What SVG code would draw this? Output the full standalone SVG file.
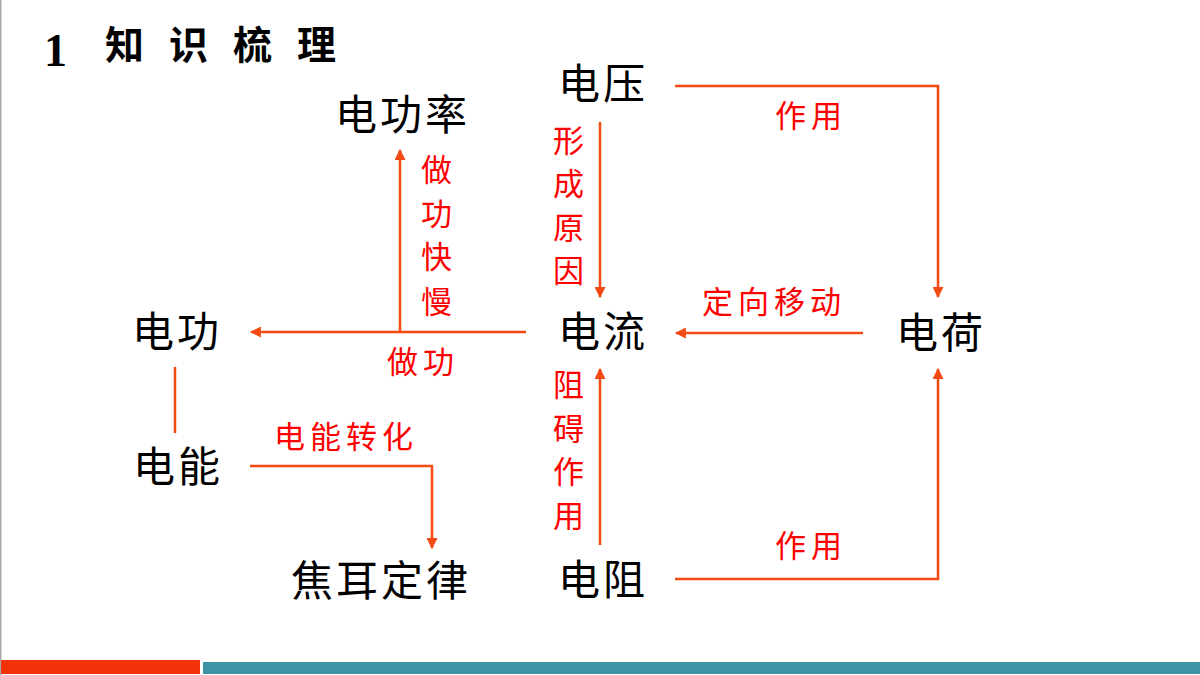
<svg xmlns="http://www.w3.org/2000/svg" width="1200" height="675" viewBox="0 0 1200 675">
<style>
.node{font-family:"Noto Sans CJK SC",sans-serif;font-size:42px;fill:#000;letter-spacing:3px}
.lbl{font-family:"Noto Sans CJK SC",sans-serif;font-size:31px;fill:#FF0000;letter-spacing:5px}
.vl{font-family:"Noto Sans CJK SC",sans-serif;font-size:31px;fill:#FF0000}
.ln{fill:none;stroke:#F24A12;stroke-width:2.5}
</style>
<defs>
<marker id="ah" viewBox="0 0 10 10" refX="9" refY="5" markerWidth="4.4" markerHeight="4.4" orient="auto" markerUnits="strokeWidth">
<path d="M0,0 L10,5 L0,10 z" fill="#F24A12"/>
</marker>
</defs>
<rect x="0" y="0" width="1200" height="675" fill="#fff"/>
<rect x="0" y="0" width="1.5" height="675" fill="#A8A8A8"/>
<rect x="1" y="660" width="199" height="14" fill="#F23208"/>
<rect x="203" y="662" width="997" height="12" fill="#3E93A5"/>
<g id="title">
<text x="44" y="66" font-family="Liberation Serif,serif" font-weight="bold" font-size="46" fill="#000">1</text>
<text x="105" y="59" font-family="Noto Sans CJK SC,sans-serif" font-weight="bold" font-size="39" fill="#000" letter-spacing="25">知识梳理</text>
</g>
<g id="connectors">
<polyline class="ln" points="675,86 938,86 938,297" marker-end="url(#ah)"/>
<line class="ln" x1="600" y1="122" x2="600" y2="297" marker-end="url(#ah)"/>
<line class="ln" x1="863" y1="333" x2="676" y2="333" marker-end="url(#ah)"/>
<polyline class="ln" points="675,579 938,579 938,369" marker-end="url(#ah)"/>
<line class="ln" x1="600" y1="545" x2="600" y2="369" marker-end="url(#ah)"/>
<line class="ln" x1="526" y1="332" x2="251" y2="332" marker-end="url(#ah)"/>
<line class="ln" x1="400" y1="332" x2="400" y2="150" marker-end="url(#ah)"/>
<line class="ln" x1="175" y1="367" x2="175" y2="433"/>
<polyline class="ln" points="250,466 432,466 432,548" marker-end="url(#ah)"/>
<text class="lbl" x="775" y="127">作用</text>
<text class="lbl" x="702" y="313">定向移动</text>
<text class="lbl" x="775" y="557">作用</text>
<text class="lbl" x="387" y="373">做功</text>
<text class="lbl" x="274" y="448">电能转化</text>
<text class="vl" x="553" y="152">形</text>
<text class="vl" x="553" y="195">成</text>
<text class="vl" x="553" y="239">原</text>
<text class="vl" x="553" y="282">因</text>
<text class="vl" x="553" y="396">阻</text>
<text class="vl" x="553" y="440">碍</text>
<text class="vl" x="553" y="483">作</text>
<text class="vl" x="553" y="527">用</text>
<text class="vl" x="421" y="181">做</text>
<text class="vl" x="421" y="225">功</text>
<text class="vl" x="421" y="268">快</text>
<text class="vl" x="421" y="313">慢</text>
</g>
<g id="n-dgl"><text class="node" x="335" y="130" letter-spacing="4">电功率</text></g>
<g id="n-dy"><text class="node" x="558" y="99">电压</text></g>
<g id="n-dl"><text class="node" x="558" y="347">电流</text></g>
<g id="n-dh"><text class="node" x="896" y="348">电荷</text></g>
<g id="n-dg"><text class="node" x="132" y="347">电功</text></g>
<g id="n-dn"><text class="node" x="133" y="482">电能</text></g>
<g id="n-jedl"><text class="node" x="291" y="596" letter-spacing="5">焦耳定律</text></g>
<g id="n-dz"><text class="node" x="558" y="595">电阻</text></g>
</svg>
